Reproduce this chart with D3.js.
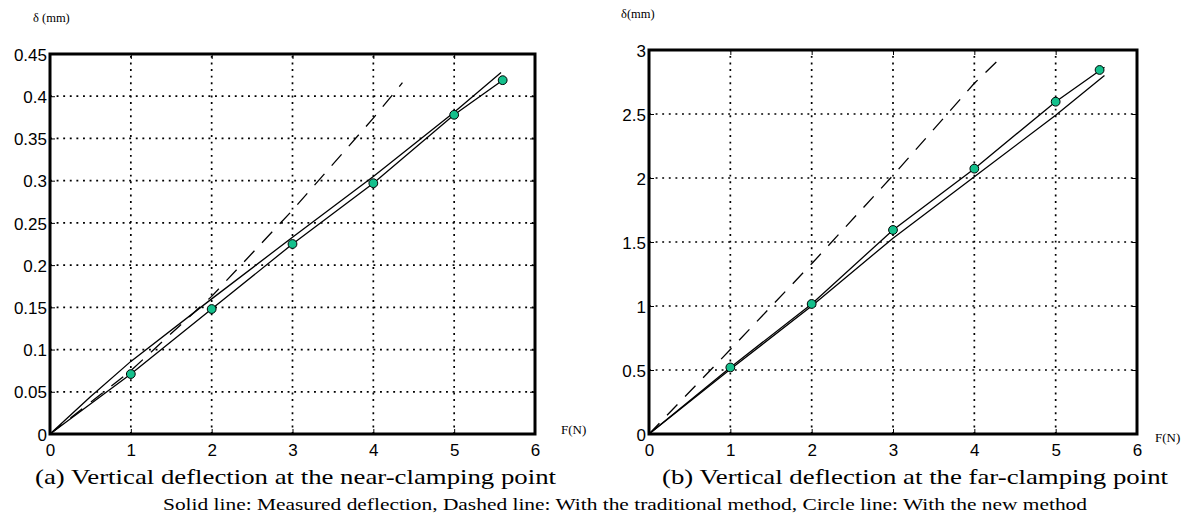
<!DOCTYPE html>
<html>
<head>
<meta charset="utf-8">
<script src="https://cdn.jsdelivr.net/npm/d3@7"></script>
<style>
  html, body { margin: 0; padding: 0; background: #fff; }
  svg { display: block; }
  .sans { font-family: "Liberation Sans", Arimo, Arial, Helvetica, sans-serif; }
  .serif { font-family: "Liberation Serif", Tinos, "Times New Roman", Times, serif; }
</style>
</head>
<body>
<svg id="chart" width="1196" height="523"></svg>
<script>
// ---------- data ----------
const forceTicks = [0, 1, 2, 3, 4, 5, 6];
const nearTicks = [0, 0.05, 0.1, 0.15, 0.2, 0.25, 0.3, 0.35, 0.4, 0.45];
const farTicks = [0, 0.5, 1, 1.5, 2, 2.5, 3];

// (a) near-clamping point
const nearMeasuredF = [0, 0.5, 1, 2, 3, 4, 5, 5.58];
const nearMeasured  = [0, 0.044, 0.086, 0.16, 0.233, 0.305, 0.381, 0.428];
const nearTraditionalF = [0, 1, 2, 3, 4, 4.36];
const nearTraditional  = [0, 0.075, 0.163, 0.265, 0.374, 0.416];
const nearNewF = [0, 1, 2, 3, 4, 5, 5.6];
const nearNew  = [0, 0.071, 0.148, 0.225, 0.297, 0.378, 0.419];
const nearCircleF = [1, 2, 3, 4, 5, 5.6];
const nearCircle  = [0.071, 0.148, 0.225, 0.297, 0.378, 0.419];

// (b) far-clamping point
const farMeasuredF = [0, 1, 2, 3, 4, 5, 5.6];
const farMeasured  = [0, 0.505, 1.0, 1.53, 2.01, 2.49, 2.8];
const farTraditionalF = [0, 1, 2, 3, 4, 4.31];
const farTraditional  = [0, 0.66, 1.33, 2.02, 2.74, 2.93];
const farNewF = [0, 1, 2, 3, 4, 5, 5.6];
const farNew  = [0, 0.52, 1.016, 1.594, 2.073, 2.596, 2.865];
const farCircleF = [1, 2, 3, 4, 5, 5.54];
const farCircle  = [0.52, 1.016, 1.594, 2.073, 2.596, 2.844];

const captionA = "(a) Vertical deflection at the near-clamping point";
const captionB = "(b) Vertical deflection at the far-clamping point";
const captionLegend = "Solid line: Measured deflection, Dashed line: With the traditional method, Circle line: With the new method";

// ---------- drawing ----------
const svg = d3.select("#chart");

function zip(xs, ys) { return xs.map((x, i) => [x, ys[i]]); }

function panel(cfg) {
  const x = d3.scaleLinear().domain([0, 6]).range(cfg.xr);
  const y = d3.scaleLinear().domain(cfg.ydom).range(cfg.yr);
  const g = svg.append("g");

  // grid
  const grid = g.append("g").attr("stroke", "#000").attr("stroke-width", 1.7)
    .attr("stroke-dasharray", "1.9,4.7").attr("fill", "none");
  grid.selectAll("line.v").data(forceTicks.slice(1, -1)).join("line")
    .attr("x1", d => x(d)).attr("x2", d => x(d))
    .attr("y1", y.range()[0]).attr("y2", y.range()[1]);
  grid.selectAll("line.h").data(cfg.yticks.slice(1, -1)).join("line")
    .attr("y1", d => y(d)).attr("y2", d => y(d))
    .attr("x1", x.range()[0]).attr("x2", x.range()[1]);

  // axes (ticks pointing inward)
  const fmt = d => String(+d.toFixed(2));
  const ax = g.append("g").attr("transform", `translate(0,${y.range()[0]})`)
    .call(d3.axisBottom(x).tickValues(forceTicks).tickFormat(fmt).tickSizeInner(-5).tickSizeOuter(0).tickPadding(10));
  const ay = g.append("g").attr("transform", `translate(${x.range()[0]},0)`)
    .call(d3.axisLeft(y).tickValues(cfg.yticks).tickFormat(fmt).tickSizeInner(-5).tickSizeOuter(0).tickPadding(3));
  const ar = g.append("g").attr("transform", `translate(${x.range()[1]},0)`)
    .call(d3.axisRight(y).tickValues(cfg.yticks).tickFormat("").tickSizeInner(-5).tickSizeOuter(0));
  const at = g.append("g").attr("transform", `translate(0,${y.range()[1]})`)
    .call(d3.axisTop(x).tickValues(forceTicks).tickFormat("").tickSizeInner(-5).tickSizeOuter(0));
  [ax, ay, ar, at].forEach(a => {
    a.attr("font-family", null).attr("font-size", null);
    a.select(".domain").remove();
    a.selectAll(".tick line").attr("stroke", "#000").attr("stroke-width", 1);
    a.selectAll("text").attr("class", "sans").style("font-size", "17px").attr("fill", "#000");
  });
  ax.selectAll("text").attr("dy", "0.71em");
  ay.selectAll("text").attr("dy", "0.36em");

  // box
  g.append("rect")
    .attr("x", x.range()[0]).attr("y", y.range()[1])
    .attr("width", x.range()[1] - x.range()[0])
    .attr("height", y.range()[0] - y.range()[1])
    .attr("fill", "none").attr("stroke", "#000").attr("stroke-width", 3);

  const line = d3.line().x(d => x(d[0])).y(d => y(d[1]));
  g.append("path").datum(cfg.measured).attr("d", line)
    .attr("fill", "none").attr("stroke", "#000").attr("stroke-width", 1.3);
  g.append("path").datum(cfg.traditional).attr("d", line)
    .attr("fill", "none").attr("stroke", "#000").attr("stroke-width", 1.3)
    .attr("stroke-dasharray", "15,11");
  g.append("path").datum(cfg.newLine).attr("d", line)
    .attr("fill", "none").attr("stroke", "#000").attr("stroke-width", 1.3);
  g.selectAll("circle.pt").data(cfg.circles).join("circle")
    .attr("cx", d => x(d[0])).attr("cy", d => y(d[1])).attr("r", 4.4)
    .attr("fill", "#14c08c").attr("stroke", "#000").attr("stroke-width", 1);

  // labels
  g.append("text").attr("class", "serif").attr("x", cfg.ylab[0]).attr("y", cfg.ylab[1])
    .style("font-size", "12.5px").text(cfg.ylabText);
  g.append("text").attr("class", "serif").attr("x", cfg.xlab[0]).attr("y", cfg.xlab[1])
    .style("font-size", "13px").text("F(N)");
}

panel({
  xr: [50, 535], ydom: [0, 0.45], yr: [434, 54], yticks: nearTicks,
  measured: zip(nearMeasuredF, nearMeasured),
  traditional: zip(nearTraditionalF, nearTraditional),
  newLine: zip(nearNewF, nearNew),
  circles: zip(nearCircleF, nearCircle),
  ylab: [33, 22], ylabText: "δ (mm)", xlab: [561, 434]
});
panel({
  xr: [649, 1137], ydom: [0, 3], yr: [434, 50], yticks: farTicks,
  measured: zip(farMeasuredF, farMeasured),
  traditional: zip(farTraditionalF, farTraditional),
  newLine: zip(farNewF, farNew),
  circles: zip(farCircleF, farCircle),
  ylab: [621, 18], ylabText: "δ(mm)", xlab: [1155, 442]
});

function caption(text, x0, x1, yb, size) {
  svg.append("text").attr("class", "serif").attr("x", x0).attr("y", yb)
    .style("font-size", size + "px")
    .attr("textLength", x1 - x0).attr("lengthAdjust", "spacingAndGlyphs")
    .text(text);
}
caption(captionA, 35, 556, 484, 21);
caption(captionB, 662, 1168, 484, 21);
caption(captionLegend, 163, 1087, 510, 16);
</script>
</body>
</html>
